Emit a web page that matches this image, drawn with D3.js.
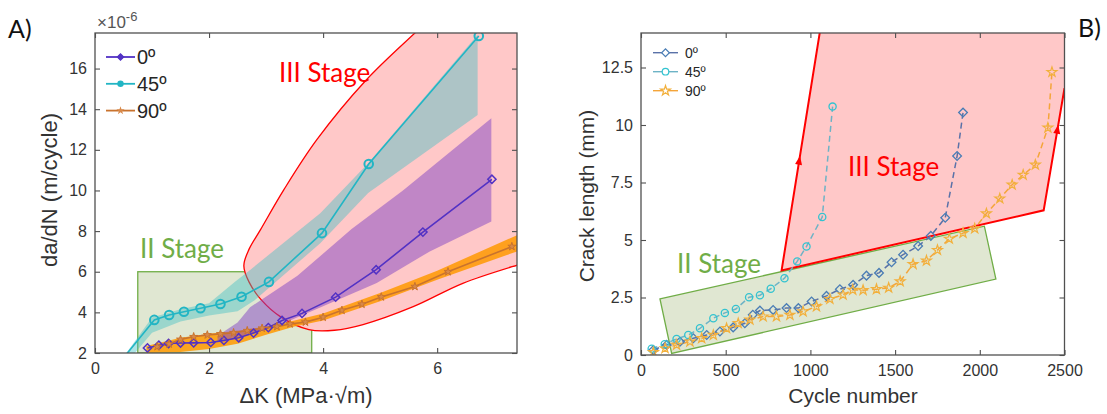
<!DOCTYPE html>
<html><head><meta charset="utf-8">
<script src="https://cdn.jsdelivr.net/npm/d3@7"></script>
<style>body{margin:0;background:#fff;} svg{display:block;}</style>
</head><body><svg id="c" width="1107" height="414"></svg>
<script>
// ---------- Panel A data (ΔK in MPa·√m, da/dN in 1e-6 m/cycle) ----------
const dk0   = [0.92,1.12,1.29,1.5,1.73,2.03,2.26,2.52,2.78,3.04,3.28,3.63,4.22,4.93,5.75,6.96];
const rate0 = [2.25,2.38,2.47,2.49,2.5,2.52,2.62,2.75,2.98,3.25,3.6,3.95,4.75,6.1,7.95,10.55];
const dk45   = [0.3,1.04,1.3,1.56,1.85,2.2,2.57,3.05,3.98,4.8,6.73];
const rate45 = [1.07,3.63,3.87,4.03,4.2,4.41,4.77,5.5,7.9,11.3,17.6];
const dk90   = [1.09,1.3,1.5,1.73,1.97,2.2,2.43,2.67,2.93,3.19,3.42,3.69,4.0,4.33,4.68,5.02,5.61,6.19,7.31];
const rate90 = [2.31,2.44,2.67,2.8,2.89,2.94,3.0,3.1,3.22,3.3,3.43,3.52,3.76,4.1,4.4,4.76,5.27,6.0,7.24];
// scatter bands
const band0UpX = [2.15,2.5,2.72,3.55,4.5,5.4,6.95];
const band0UpY = [2.85,3.5,4.25,5.8,8.1,10.0,13.56];
const band0LoX = [2.15,2.7,3.31,4.12,4.94,5.87,6.95];
const band0LoY = [2.62,2.9,3.46,4.45,5.45,7.0,8.47];
const band45UpX = [0.55,1.0,1.5,2.0,2.45,2.72,3.95,4.79,6.71];
const band45UpY = [2.0,3.75,4.15,4.45,5.5,6.09,8.88,11.34,17.66];
const band45LoX = [0.7,1.0,1.5,2.0,2.5,2.8,3.95,4.79,6.71];
const band45LoY = [2.0,3.0,3.55,3.85,4.05,4.6,7.4,9.87,13.72];
const band90X  = [0.9,1.5,2.0,2.5,3.0,3.5,4.0,5.0,6.0,7.4];
const band90Up = [2.35,2.75,2.95,3.1,3.3,3.6,3.95,4.95,6.05,7.8];
const band90Lo = [2.0,2.05,2.2,2.45,2.9,3.3,3.6,4.55,5.6,7.0];
// stage regions
const stage2A_dk = [0.75,3.8];
const stage2A_rate = [2,6];
const stage3A_dk   = [6.2,5.64,4.76,3.89,3.31,2.9,2.7,2.61,2.7,2.92,3.25,3.75,4.2,4.7,5.58,6.45,7.41,8.0];
const stage3A_rate = [19.3,17.83,15.45,12.5,10.03,8.06,7.1,6.3,5.5,4.6,3.79,3.15,3.12,3.4,4.28,5.43,6.33,6.8];
const ticksAx = [0,2,4,6];
const ticksAy = [2,4,6,8,10,12,14,16];

// ---------- Panel B data (cycles, crack length mm) ----------
const cyc0 = [73,152,230,309,388,466,544,613,660,702,780,859,929,1007,1095,1174,1252,1331,1405,1479,1547,1636,1711,1796,1866,1901];
const len0 = [0.22,0.44,0.58,0.73,0.87,1.02,1.2,1.38,1.75,1.93,1.96,2.04,2.04,2.33,2.57,2.86,3.05,3.45,3.57,4.03,4.36,4.74,5.18,5.97,8.65,10.54];
const cyc45 = [63,140,210,279,348,427,495,560,638,702,766,847,922,977,1070,1131];
const len45 = [0.27,0.47,0.7,0.87,1.16,1.6,1.83,2.0,2.51,2.6,2.88,3.34,4.07,4.72,6.0,10.8];
const cyc90 = [73,142,210,289,358,427,505,574,643,721,800,879,957,1036,1115,1193,1250,1311,1390,1462,1530,1606,1685,1750,1820,1901,1970,2039,2118,2191,2256,2328,2402,2426];
const len90 = [0.12,0.29,0.44,0.58,0.73,0.87,1.16,1.38,1.53,1.67,1.67,1.74,1.89,2.11,2.43,2.62,2.83,2.82,2.86,2.92,3.2,3.95,4.1,4.56,5.05,5.3,5.5,6.15,6.8,7.4,7.83,8.27,9.88,12.3];
const stage2B_cyc = [112,2027,2095,181];
const stage2B_len = [2.44,5.6,3.3,0.07];
const stage3B_cyc = [830,1056,2500,2500,2377];
const stage3B_len = [3.68,14.05,14.05,11.6,6.29];
const stage3B_edgeCyc = [1056,830,2377,2500];
const stage3B_edgeLen = [14.05,3.68,6.29,11.6];
const arrowSeg = [[1,0],[2,3]];   // edge segments (from,to) carrying arrows
const arrowT = [0.46,0.66];
const ticksBx = [0,500,1000,1500,2000,2500];
const ticksBy = [0,2.5,5,7.5,10,12.5];
const legendLabels = ["0º","45º","90º"];

// ---------- styling ----------
const svg = d3.select("#c");
const tickFont = "'Liberation Sans', Arial, sans-serif";
const labFont = "Lato, 'Open Sans', sans-serif";
const axisCol = "#505050";
const txtCol = "#333";
const green = "#70AD47", greenFill = "#E0E7D2", pink = "#FFC8C8", red = "#FF0000";
const colA = ["#5232C4","#22B5C4","#C9732E"];
const colBm = ["#4A7DB5","#33C3D0","#F2B03C"];
const colBl = ["#5A72A8","#6DB3C6","#F4A53A"];

const defs = svg.append("defs");
function clip(id,x0,y0,x1,y1){ defs.append("clipPath").attr("id",id).append("rect").attr("x",x0).attr("y",y0).attr("width",x1-x0).attr("height",y1-y0); }

function frame(g, x, y, xt, yt, fmtX, fmtY, fs, padX){
  const [x0,x1]=x.range(), [y0,y1]=y.range();
  const ax = g.append("g").attr("transform",`translate(0,${y0})`).call(d3.axisBottom(x).tickValues(xt).tickSizeInner(-5).tickSizeOuter(0).tickPadding(padX).tickFormat(fmtX));
  const at = g.append("g").attr("transform",`translate(0,${y1})`).call(d3.axisTop(x).tickValues(xt).tickSizeInner(-5).tickSizeOuter(0).tickFormat(""));
  const ay = g.append("g").attr("transform",`translate(${x0},0)`).call(d3.axisLeft(y).tickValues(yt).tickSizeInner(-5).tickSizeOuter(0).tickPadding(8).tickFormat(fmtY));
  const ar = g.append("g").attr("transform",`translate(${x1},0)`).call(d3.axisRight(y).tickValues(yt).tickSizeInner(-5).tickSizeOuter(0).tickFormat(""));
  [ax,at,ay,ar].forEach(a=>{ a.select(".domain").remove(); a.selectAll("line").attr("stroke",axisCol).attr("stroke-width",1.1);
    a.selectAll("text").attr("fill",txtCol).style("font-family",tickFont).style("font-size",fs+"px"); });
  g.append("rect").attr("x",x0).attr("y",y1).attr("width",x1-x0).attr("height",y0-y1).attr("fill","none").attr("stroke",axisCol).attr("stroke-width",1.3);
}

// ================= Panel A =================
const xA = d3.scaleLinear().domain([0,7.4]).range([95,517]);
const yA = d3.scaleLinear().domain([2,17.75]).range([353,33]);
clip("clipA",95,33,517,353);
const gA = svg.append("g");
const pA = gA.append("g").attr("clip-path","url(#clipA)");

pA.append("rect").attr("x",xA(stage2A_dk[0])).attr("y",yA(stage2A_rate[1]))
  .attr("width",xA(stage2A_dk[1])-xA(stage2A_dk[0])).attr("height",yA(stage2A_rate[0])-yA(stage2A_rate[1]))
  .attr("fill",greenFill).attr("stroke",green).attr("stroke-width",1.3);
const s3pts = stage3A_dk.map((d,i)=>[xA(d),yA(stage3A_rate[i])]);
const curve = d3.line().curve(d3.curveCatmullRom.alpha(0.5))(s3pts);
pA.append("path").attr("d", curve + `L${xA(8.6)},${yA(6.8)}L${xA(8.6)},${yA(20)}L${xA(6.2)},${yA(20)}Z`)
  .attr("fill",pink).attr("stroke","none");
pA.append("path").attr("d",curve).attr("fill","none").attr("stroke",red).attr("stroke-width",1.3);

function bandPath(ux,uy,lx,ly){
  const up = ux.map((d,i)=>[xA(d),yA(uy[i])]);
  const lo = lx.map((d,i)=>[xA(d),yA(ly[i])]).reverse();
  return d3.line()(up.concat(lo)) + "Z";
}
pA.append("path").attr("d",bandPath(band90X,band90Up,band90X,band90Lo)).attr("fill","#FF9900").attr("opacity",0.85);
pA.append("path").attr("d",bandPath(band0UpX,band0UpY,band0LoX,band0LoY)).attr("fill","#8244C4").attr("opacity",0.5);
pA.append("path").attr("d",bandPath(band45UpX,band45UpY,band45LoX,band45LoY)).attr("fill","#3CBEC3").attr("opacity",0.42);

const lineA = d3.line().x(d=>xA(d[0])).y(d=>yA(d[1]));
const sA = [d3.zip(dk0,rate0), d3.zip(dk45,rate45), d3.zip(dk90,rate90)];
sA.forEach((s,i)=>pA.append("path").attr("d",lineA(s)).attr("fill","none").attr("stroke",colA[i]).attr("stroke-width",1.6));
const diamond = d3.symbol().type(d3.symbolSquare);
pA.selectAll(".m0").data(sA[0]).enter().append("path").attr("d",diamond.size(34)())
  .attr("transform",d=>`translate(${xA(d[0])},${yA(d[1])}) rotate(45)`).attr("fill","none").attr("stroke",colA[0]).attr("stroke-width",1.5);
pA.selectAll(".m45").data(sA[1]).enter().append("circle").attr("cx",d=>xA(d[0])).attr("cy",d=>yA(d[1])).attr("r",4.3)
  .attr("fill","none").attr("stroke",colA[1]).attr("stroke-width",2);
const starA = d3.symbol().type(d3.symbolStar).size(20);
pA.selectAll(".m90").data(sA[2]).enter().append("path").attr("d",starA())
  .attr("transform",d=>`translate(${xA(d[0])},${yA(d[1])})`).attr("fill","#D8894A").attr("stroke",colA[2]).attr("stroke-width",1);

gA.append("text").attr("x",279).attr("y",82).text("III Stage").attr("fill",red).style("font-family",labFont).style("font-size","26px");
gA.append("text").attr("x",140).attr("y",258).text("II Stage").attr("fill",green).style("font-family",labFont).style("font-size","26px");

frame(gA,xA,yA,ticksAx,ticksAy,d3.format("d"),d3.format("d"),16,10);

const ex = gA.append("text").attr("x",97).attr("y",28).attr("fill","#555").style("font-family",tickFont).style("font-size","17px").text("×10");
ex.append("tspan").attr("dy",-7).style("font-size","13px").text("-6");

const legA = gA.append("g");
legendLabels.forEach((lab,i)=>{
  const cy = 57 + i*26.8;
  legA.append("line").attr("x1",106).attr("x2",135).attr("y1",cy).attr("y2",cy).attr("stroke",colA[i]).attr("stroke-width",1.8);
  if(i===0) legA.append("path").attr("d",d3.symbol().type(d3.symbolSquare).size(22)()).attr("transform",`translate(120.5,${cy}) rotate(45)`).attr("fill",colA[0]).attr("stroke",colA[0]);
  if(i===1) legA.append("circle").attr("cx",120.5).attr("cy",cy).attr("r",3.2).attr("fill",colA[1]);
  if(i===2) legA.append("path").attr("d",d3.symbol().type(d3.symbolStar).size(22)()).attr("transform",`translate(120.5,${cy})`).attr("fill","#D8894A");
  legA.append("text").attr("x",137).attr("y",cy+7).text(lab).attr("fill","#262626").style("font-family",tickFont).style("font-size","20px");
});

gA.append("text").attr("transform","translate(57,190) rotate(-90)").attr("text-anchor","middle").text("da/dN (m/cycle)")
  .attr("fill",txtCol).style("font-family",tickFont).style("font-size","22px");
gA.append("text").attr("x",306).attr("y",403).attr("text-anchor","middle").text("ΔK (MPa·√m)")
  .attr("fill",txtCol).style("font-family",tickFont).style("font-size","22px");
svg.append("text").attr("x",8).attr("y",38).text("A)").attr("fill","#111").style("font-family",labFont).style("font-size","25px");

// ================= Panel B =================
const xB = d3.scaleLinear().domain([0,2500]).range([641,1064.5]);
const yB = d3.scaleLinear().domain([0,14]).range([355,33]);
clip("clipB",641,33,1064.5,355);
const gB = svg.append("g");
const pB = gB.append("g").attr("clip-path","url(#clipB)");
const polyB = (cx,cy)=>d3.line()(cx.map((c,i)=>[xB(c),yB(cy[i])]));
pB.append("path").attr("d",polyB(stage2B_cyc,stage2B_len)+"Z").attr("fill",greenFill).attr("stroke",green).attr("stroke-width",1.3);
pB.append("path").attr("d",polyB(stage3B_cyc,stage3B_len)+"Z").attr("fill",pink).attr("stroke","none");
pB.append("path").attr("d",polyB(stage3B_edgeCyc,stage3B_edgeLen)).attr("fill","none").attr("stroke",red).attr("stroke-width",2);
arrowSeg.forEach((sg,k)=>{
  const a=[xB(stage3B_edgeCyc[sg[0]]),yB(stage3B_edgeLen[sg[0]])], b=[xB(stage3B_edgeCyc[sg[1]]),yB(stage3B_edgeLen[sg[1]])];
  const t=arrowT[k], px=a[0]+(b[0]-a[0])*t, py=a[1]+(b[1]-a[1])*t;
  const ang=Math.atan2(b[1]-a[1],b[0]-a[0])*180/Math.PI;
  pB.append("path").attr("d","M5,0L-4,-3.5L-4,3.5Z").attr("transform",`translate(${px},${py}) rotate(${ang})`).attr("fill",red);
});

const lineB = d3.line().x(d=>xB(d[0])).y(d=>yB(d[1]));
const sB = [d3.zip(cyc0,len0), d3.zip(cyc45,len45), d3.zip(cyc90,len90)];
sB.forEach((s,i)=>pB.append("path").attr("d",lineB(s)).attr("fill","none").attr("stroke",colBl[i]).attr("stroke-width",1.5).attr("stroke-dasharray","6,4"));
pB.selectAll(".b0").data(sB[0]).enter().append("path").attr("d",diamond.size(38)())
  .attr("transform",d=>`translate(${xB(d[0])},${yB(d[1])}) rotate(45)`).attr("fill","none").attr("stroke",colBm[0]).attr("stroke-width",1.3);
pB.selectAll(".b45").data(sB[1]).enter().append("circle").attr("cx",d=>xB(d[0])).attr("cy",d=>yB(d[1])).attr("r",3.6)
  .attr("fill","none").attr("stroke",colBm[1]).attr("stroke-width",1.3);
const starB = d3.symbol().type(d3.symbolStar).size(30);
pB.selectAll(".b90").data(sB[2]).enter().append("path").attr("d",starB())
  .attr("transform",d=>`translate(${xB(d[0])},${yB(d[1])})`).attr("fill","none").attr("stroke",colBm[2]).attr("stroke-width",1.2);

gB.append("text").attr("x",848).attr("y",176).text("III Stage").attr("fill",red).style("font-family",labFont).style("font-size","26px");
gB.append("text").attr("x",677).attr("y",273).text("II Stage").attr("fill",green).style("font-family",labFont).style("font-size","26px");

frame(gB,xB,yB,ticksBx,ticksBy,d3.format("d"),d3.format("~g"),16,10);

const legB = gB.append("g");
legendLabels.forEach((lab,i)=>{
  const cy = 52.7 + i*19;
  legB.append("line").attr("x1",653).attr("x2",678).attr("y1",cy).attr("y2",cy).attr("stroke",colBl[i]).attr("stroke-width",1.4);
  if(i===0) legB.append("path").attr("d",diamond.size(30)()).attr("transform",`translate(665.5,${cy}) rotate(45)`).attr("fill","#fff").attr("stroke",colBm[0]).attr("stroke-width",1.2);
  if(i===1) legB.append("circle").attr("cx",665.5).attr("cy",cy).attr("r",3.3).attr("fill","#fff").attr("stroke",colBm[1]).attr("stroke-width",1.2);
  if(i===2) legB.append("path").attr("d",starB()).attr("transform",`translate(665.5,${cy})`).attr("fill","#fff").attr("stroke",colBm[2]).attr("stroke-width",1.2);
  legB.append("text").attr("x",685).attr("y",cy+5).text(lab).attr("fill","#262626").style("font-family",tickFont).style("font-size","14px");
});

gB.append("text").attr("transform","translate(594,196) rotate(-90)").attr("text-anchor","middle").text("Crack length (mm)")
  .attr("fill",txtCol).style("font-family",tickFont).style("font-size","21px");
gB.append("text").attr("x",853).attr("y",403).attr("text-anchor","middle").text("Cycle number")
  .attr("fill",txtCol).style("font-family",tickFont).style("font-size","21px");
svg.append("text").attr("x",1078).attr("y",37).text("B)").attr("fill","#111").style("font-family",labFont).style("font-size","25px");
</script></body></html>
